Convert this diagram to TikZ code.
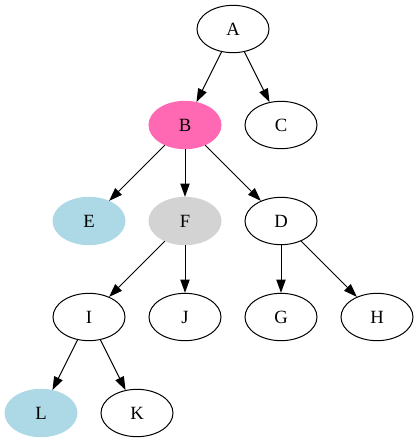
\documentclass[tikz,border=0pt]{standalone}
\usepackage{fontspec}
\setmainfont{Liberation Serif}
\usetikzlibrary{shapes.geometric,arrows.meta}
\definecolor{hotpink}{HTML}{FF69B4}
\definecolor{lblue}{HTML}{ADD8E6}
\definecolor{lgray}{HTML}{D3D3D3}
\begin{document}
\begin{tikzpicture}[x=0.75pt,y=-0.75pt,
  nd/.style={ellipse,draw=black,line width=0.75pt,inner sep=0pt,minimum width=54pt,minimum height=35.5pt,font=\fontsize{14}{16}\selectfont},
  pinkn/.style={nd,fill=hotpink,draw=hotpink},
  bluen/.style={nd,fill=lblue,draw=lblue},
  grayn/.style={nd,fill=lgray,draw=lgray},
  edge/.style={line width=0.75pt,-{Triangle[length=10pt,width=7pt]}}]
\useasboundingbox (0,0) rectangle (419,443);
\node[nd] (A) at (233,29) {A};
\node[pinkn] (B) at (185,125) {B};
\node[nd] (C) at (281,125) {C};
\node[bluen] (E) at (89,221) {E};
\node[grayn] (F) at (185,221) {F};
\node[nd] (D) at (281,221) {D};
\node[nd] (I) at (89,317) {I};
\node[nd] (J) at (185,317) {J};
\node[nd] (G) at (281,317) {G};
\node[nd] (H) at (377,317) {H};
\node[bluen] (L) at (41,413) {L};
\node[nd] (K) at (137,413) {K};
\draw[edge] (A) -- (B);
\draw[edge] (A) -- (C);
\draw[edge] (B) -- (E);
\draw[edge] (B) -- (F);
\draw[edge] (B) -- (D);
\draw[edge] (F) -- (I);
\draw[edge] (F) -- (J);
\draw[edge] (D) -- (G);
\draw[edge] (D) -- (H);
\draw[edge] (I) -- (L);
\draw[edge] (I) -- (K);
\end{tikzpicture}
\end{document}
